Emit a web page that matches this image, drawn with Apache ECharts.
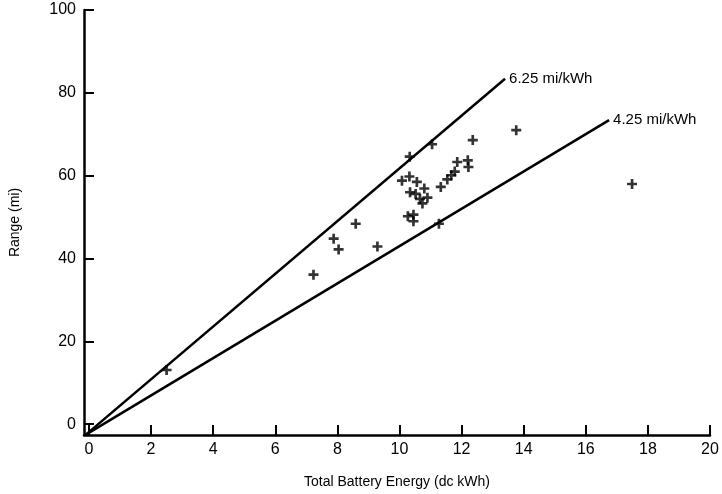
<!DOCTYPE html>
<html lang="en">
<head>
    <meta charset="UTF-8">
    <title>Range vs Battery Energy</title>
    <script src="https://cdn.jsdelivr.net/npm/echarts@6/dist/echarts.min.js"></script>
    <style>
        html, body { margin: 0; padding: 0; background: #fff; }
        #main { width: 722px; height: 494px; }
    </style>
</head>
<body>
<div id="main"></div>
<script>
    // measured vehicles: battery energy (dc kWh) and range (mi)
    var energy = [2.5, 7.23, 7.88, 8.04, 8.59, 9.29, 10.33, 11.05, 12.36, 13.76,
                  10.08, 10.32, 10.56, 10.8, 10.34, 10.52, 10.66, 10.9, 10.74,
                  11.33, 11.54, 11.67, 11.78, 11.86, 12.2, 12.22, 10.27, 10.45,
                  10.45, 11.27, 17.49];
    var range = [13.1, 36.1, 44.8, 42.2, 48.4, 42.9, 64.6, 67.6, 68.6, 71.0,
                 58.8, 59.8, 58.5, 56.9, 56.0, 55.6, 54.4, 54.7, 53.3,
                 57.3, 59.1, 60.1, 61.0, 63.3, 63.7, 62.1, 50.2, 50.6,
                 49.0, 48.4, 58.0];

    // reference efficiency lines (drawn from the plot corner to the label)
    var line625 = [[-0.1, -2.5], [13.4, 83.4]];
    var line425 = [[-0.1, -2.5], [16.75, 73.4]];

    var xTicks = [0, 2, 4, 6, 8, 10, 12, 14, 16, 18, 20];
    var yTicks = [0, 20, 40, 60, 80, 100];

    var points = [];
    for (var i = 0; i < energy.length; i++) {
        points.push([energy[i], range[i]]);
    }

    var font = 'Liberation Sans, Arial, sans-serif';
    var plus = 'path://M-1.2,-4.5 h2.4 v3.3 h3.3 v2.4 h-3.3 v3.3 h-2.4 v-3.3 h-3.3 v-2.4 h3.3 z';

    var myChart = echarts.init(document.getElementById('main'));
    var option = {
        animation: false,
        backgroundColor: '#fff',
        grid: { left: 83, right: 12, top: 10, bottom: 56 },
        xAxis: {
            type: 'value',
            min: -0.16,
            max: 20,
            name: 'Total Battery Energy (dc kWh)',
            nameLocation: 'middle',
            nameGap: 40,
            nameTextStyle: { color: '#000', fontSize: 14, fontFamily: font },
            axisLine: { onZero: false, lineStyle: { color: '#000', width: 2.5 } },
            axisTick: { inside: true, length: 10, customValues: xTicks, lineStyle: { color: '#000', width: 2 } },
            axisLabel: { customValues: xTicks, color: '#000', fontSize: 16, fontFamily: font, margin: 7 },
            splitLine: { show: false }
        },
        yAxis: {
            type: 'value',
            min: -2.6,
            max: 100,
            name: 'Range (mi)',
            nameLocation: 'middle',
            nameGap: 62,
            nameTextStyle: { color: '#000', fontSize: 14, fontFamily: font },
            axisLine: { onZero: false, lineStyle: { color: '#000', width: 2.5 } },
            axisTick: { inside: true, length: 10, customValues: yTicks, lineStyle: { color: '#000', width: 2 } },
            axisLabel: { customValues: yTicks, color: '#000', fontSize: 16, fontFamily: font, margin: 8 },
            splitLine: { show: false }
        },
        series: [
            {
                type: 'line',
                data: line625,
                symbol: 'none',
                lineStyle: { color: '#000', width: 2.5 },
                endLabel: { show: true, formatter: '6.25 mi/kWh', color: '#000', fontSize: 15, fontFamily: font, distance: 4 }
            },
            {
                type: 'line',
                data: line425,
                symbol: 'none',
                lineStyle: { color: '#000', width: 2.5 },
                endLabel: { show: true, formatter: '4.25 mi/kWh', color: '#000', fontSize: 15, fontFamily: font, distance: 4 }
            },
            {
                type: 'scatter',
                data: points,
                symbol: plus,
                symbolSize: 10,
                itemStyle: { color: '#000' }
            }
        ]
    };
    myChart.setOption(option);
</script>
</body>
</html>
